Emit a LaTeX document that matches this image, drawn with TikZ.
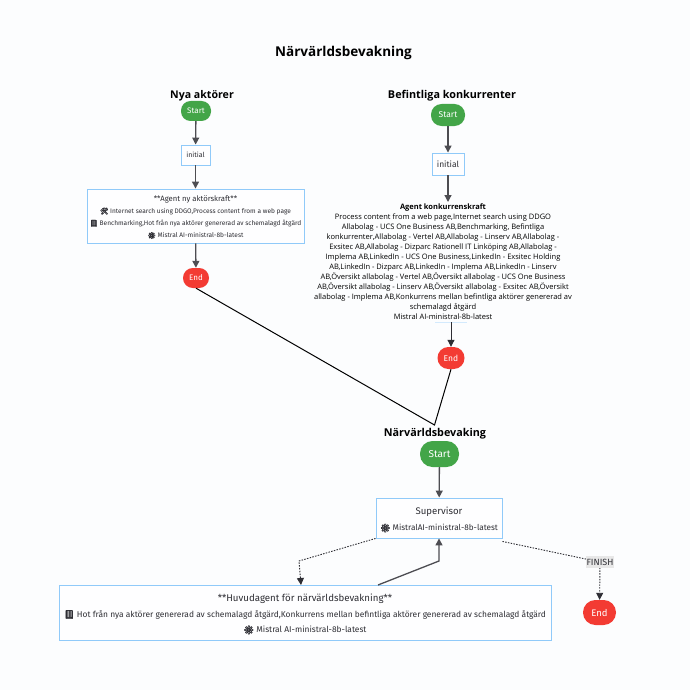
\documentclass[tikz,border=0pt]{standalone}
\usepackage{fontspec}
\setmainfont{Open Sans}
\newfontfamily\boxf{Fira Sans}
\newfontfamily\emo[FakeBold=2.5]{Noto Emoji}
\usetikzlibrary{arrows.meta,calc}
\definecolor{bg}{HTML}{FCFDFE}
\definecolor{boxb}{HTML}{90CAF9}
\definecolor{grn}{HTML}{43A548}
\definecolor{rd}{HTML}{F33B33}
\definecolor{ink}{HTML}{2E2E34}
\tikzset{
  x=1pt,y=-1pt,
  pill/.style={draw=none,fill=grn,rounded corners=9.5pt,text=white,inner sep=0pt,align=center},
  endpill/.style={draw=none,fill=rd,rounded corners=9.8pt,text=white,inner sep=0pt,align=center},
  abox/.style={draw=boxb,line width=0.9pt,fill=white!60!bg,inner sep=0pt,text=ink,align=center},
  ttl/.style={text=black,inner sep=0pt},
  flow/.style={draw=ink!85,line width=1.3pt,-{Triangle[length=7pt,width=7pt]}},
  flowthin/.style={draw=ink,line width=1pt,-{Triangle[length=7pt,width=7pt]}},
  plain/.style={draw=black,line width=1pt},
  dot/.style={draw=ink,line width=0.9pt,dash pattern=on 1.5pt off 1.3pt},
  dotarrow/.style={dot,-{Triangle[length=7pt,width=7pt]}},
}
\begin{document}
\begin{tikzpicture}
\useasboundingbox (0,0) rectangle (690,690);
\fill[bg] (0,0) rectangle (690,690);
\newcommand{\gear}{{\emo ⚙}}
\newcommand{\bok}{{\emo 📕}}
\newcommand{\verk}{{\emo 🛠}}

\node[ttl,font=\bfseries\fontsize{13.5}{16}\selectfont] (title) at (343.5,53) {Närvärldsbevakning};

% left graph
\node[ttl,font=\bfseries\fontsize{10.6}{13}\selectfont] (t1) at (202,96) {Nya aktörer};
\node[pill,minimum width=30pt,minimum height=20pt,font=\boxf\fontsize{8}{9}\selectfont] (s1) at (196,111) {Start};
\node[abox,minimum width=29pt,minimum height=20pt,font=\boxf\fontsize{7}{8}\selectfont] (i1) at (195.5,155) {initial};
\node[abox,minimum width=217pt,minimum height=54pt,font=\boxf\fontsize{6.55}{12.2}\selectfont] (a1) at (195.5,216) {\rule{0pt}{8pt}{\fontsize{7.7}{12.2}\selectfont **Agent ny aktörskraft**}\\ \verk\ Internet search using DDGO,Process content from a web page\\ \bok\ Benchmarking,Hot från nya aktörer genererad av schemalagd åtgärd\\ \gear\ Mistral AI-ministral-8b-latest};
\node[endpill,minimum width=26pt,minimum height=20pt,font=\boxf\fontsize{8}{9}\selectfont] (e1) at (196,278) {End};
\draw[flow] (s1) -- (i1);
\draw[flow] (i1) -- (a1);
\draw[flow] (a1) -- (e1);

% right graph
\node[ttl,font=\bfseries\fontsize{10.8}{13}\selectfont] (t2) at (452,96) {Befintliga konkurrenter};
\node[pill,minimum width=34pt,minimum height=22pt,rounded corners=10.5pt,font=\boxf\fontsize{8.5}{9}\selectfont] (s2) at (448,115) {Start};
\node[abox,minimum width=32pt,minimum height=22pt,font=\boxf\fontsize{8.5}{9}\selectfont] (i2) at (448,164) {initial};
\node[inner sep=0pt,align=center,font=\fontsize{7.5}{10}\selectfont,text=black] (a2) at (443,262) {{\bfseries Agent konkurrenskraft}\\
Process content from a web page,Internet search using DDGO\\
Allabolag - UCS One Business AB,Benchmarking, Befintliga\\
konkurrenter,Allabolag - Vertel AB,Allabolag - Linserv AB,Allabolag -\\
Exsitec AB,Allabolag - Dizparc Rationell IT Linköping AB,Allabolag -\\
Implema AB,LinkedIn - UCS One Business,LinkedIn - Exsitec Holding\\
AB,LinkedIn - Dizparc AB,LinkedIn - Implema AB,LinkedIn - Linserv\\
AB,Översikt allabolag - Vertel AB,Översikt allabolag - UCS One Business\\
AB,Översikt allabolag - Linserv AB,Översikt allabolag - Exsitec AB,Översikt\\
allabolag - Implema AB,Konkurrens mellan befintliga aktörer genererad av\\
schemalagd åtgärd\\
Mistral AI-ministral-8b-latest};
\coordinate (a2top) at (448,202);
\coordinate (a2bot) at (451,322);
\node[endpill,minimum width=27pt,minimum height=22pt,rounded corners=10.8pt,font=\boxf\fontsize{8.5}{9}\selectfont] (e2) at (451,358) {End};
\draw[flow] (s2) -- (i2);
\draw[flow] (i2) -- (a2top);
\draw[draw=boxb!40!white,line width=0.5pt] (435,322) -- (467,322);
\draw[flowthin] (a2bot) -- (e2);

% joins
\coordinate (join) at (434.5,425);
\draw[plain] (e1.south) -- (join) -- (e2.south);

% bottom graph
\node[ttl,font=\bfseries\fontsize{10.8}{13}\selectfont] (t3) at (435,434) {Närvärldsbevaking};
\node[pill,minimum width=39pt,minimum height=26pt,rounded corners=12.5pt,font=\boxf\fontsize{10}{11}\selectfont] (s3) at (439.5,454) {Start};
\node[abox,minimum width=126pt,minimum height=40pt,font=\boxf\fontsize{8.2}{16}\selectfont] (sup) at (439,518) {\rule{0pt}{11pt}{\fontsize{9.6}{16}\selectfont Supervisor}\\ \gear\ MistralAI-ministral-8b-latest};
\node[abox,minimum width=492pt,minimum height=55pt,font=\boxf\fontsize{8.4}{15.5}\selectfont] (hu) at (305,612.5) {\rule{0pt}{11pt}{\fontsize{9.7}{15.5}\selectfont **Huvudagent för närvärldsbevakning**}\\ \bok\ Hot från nya aktörer genererad av schemalagd åtgärd,Konkurrens mellan befintliga aktörer genererad av schemalagd åtgärd\\ \gear\ Mistral AI-ministral-8b-latest};
\node[endpill,minimum width=33pt,minimum height=25pt,rounded corners=12.4pt,font=\boxf\fontsize{9.5}{10}\selectfont] (e3) at (599.5,612.5) {End};
\coordinate (fincenter) at (600,562);
\coordinate (d1) at (299,561);
\coordinate (d1e) at (301,585);
\coordinate (r1) at (378,585);
\coordinate (r2) at (439,561);
\draw[flow] (s3) -- (sup);
\draw[dotarrow] (sup.south west) -- (d1) -- (d1e);
\draw[flow] (r1) -- (r2) -- (sup.south);
\draw[dot] ([yshift=-3pt]sup.south east) -- (fincenter);
\draw[dotarrow] (fincenter) -- (e3);
\node[fill=black!9,inner sep=0pt,minimum width=28pt,minimum height=12pt,text=ink,font=\boxf\fontsize{9}{10}\selectfont] (fin) at (fincenter) {FINISH};
\end{tikzpicture}
\end{document}
